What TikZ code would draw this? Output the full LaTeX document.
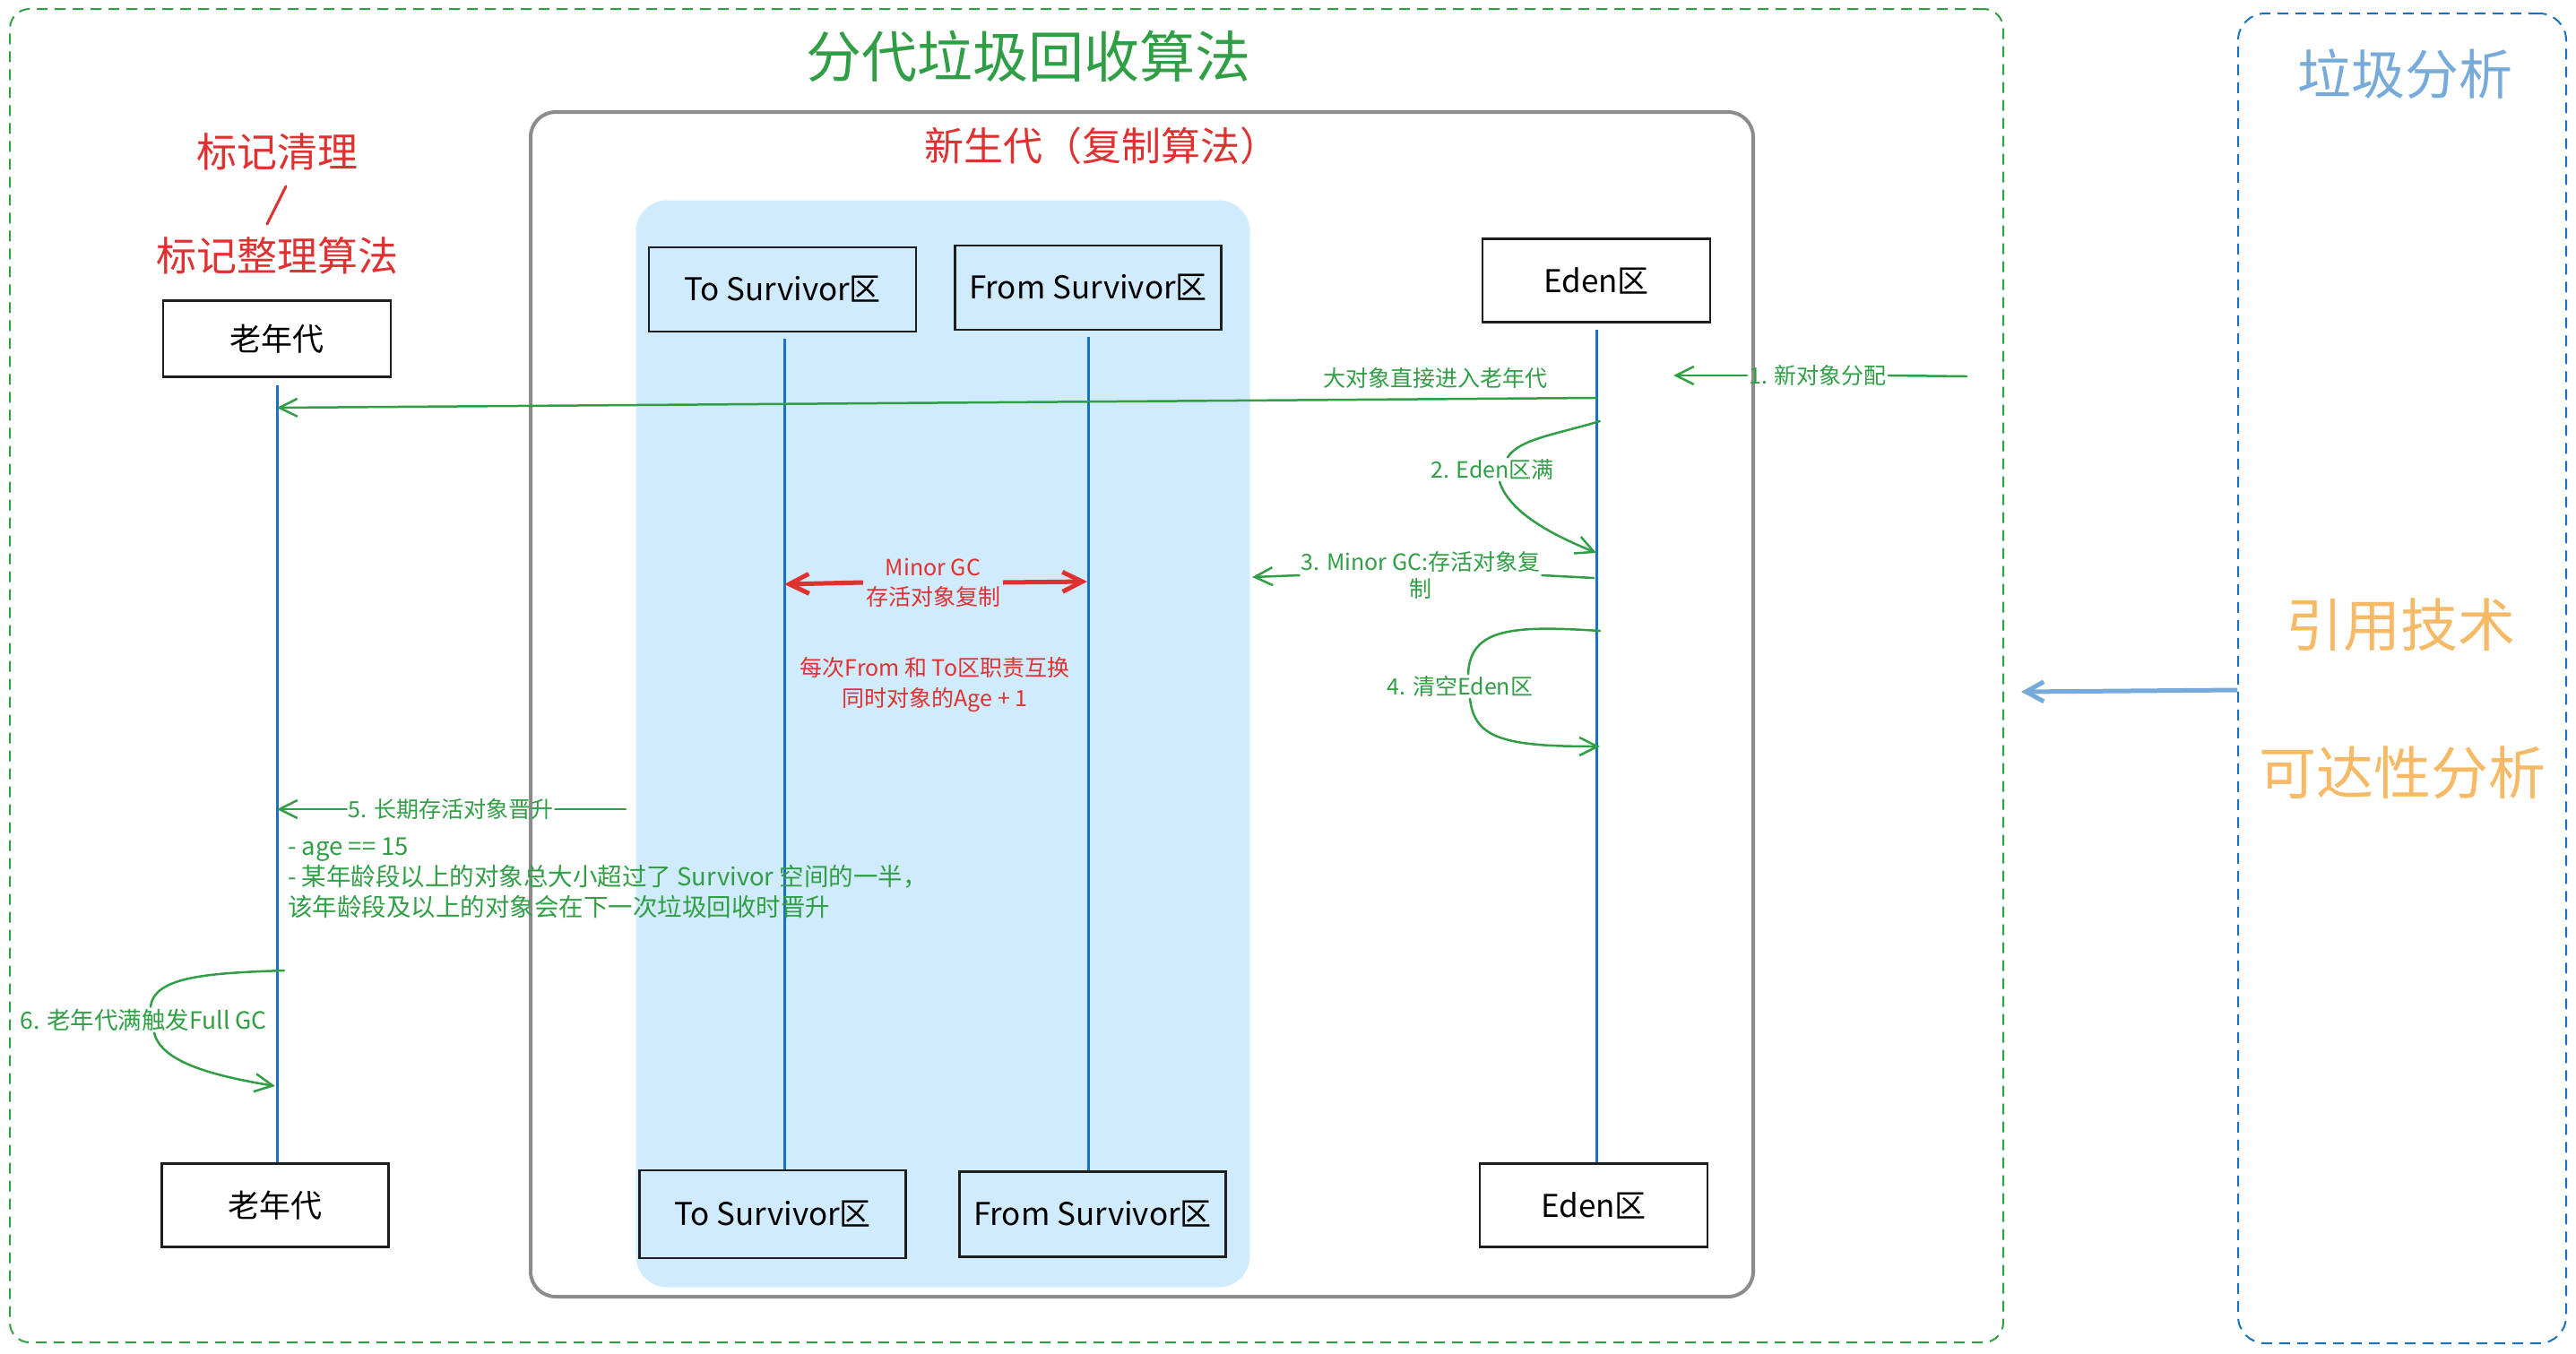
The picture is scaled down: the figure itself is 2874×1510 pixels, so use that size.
\documentclass[tikz,border=0pt]{standalone}
\usepackage{fontspec}
\setmainfont{Noto Sans CJK SC}
\usetikzlibrary{arrows.meta}
\definecolor{xgreen}{HTML}{2F9E44}
\definecolor{xred}{HTML}{E03131}
\definecolor{xblue}{HTML}{1971C2}
\definecolor{xlblue}{RGB}{117,170,218}
\definecolor{xorange}{RGB}{246,186,102}
\definecolor{xfill}{RGB}{208,235,253}
\definecolor{xgray}{RGB}{140,140,140}
\definecolor{xink}{HTML}{1E1E1E}
\newcommand\myfs[2]{\fontsize{#1}{#2}\selectfont}
\begin{document}
\begin{tikzpicture}[x=1pt,y=-1pt,
  pbox/.style={draw=xink,line width=2.5pt,font=\myfs{35}{42},text=black,inner sep=0pt},
  lifeline/.style={draw=xblue,line width=3pt},
  glbl/.style={font=\myfs{25}{30},text=xgreen,inner sep=2pt,align=center},
  rlbl/.style={font=\myfs{25}{33},text=xred,inner sep=3pt,align=center},
  gline/.style={draw=xgreen,line width=2.5pt,line cap=round},
  garrow/.style={gline,-{Straight Barb[length=20pt,width=20pt]}},
  rarrow/.style={draw=xred,line width=5pt,-{Straight Barb[length=22pt,width=22pt]}},
  frame/.style={line width=2pt,dash pattern=on 12pt off 8pt,inner sep=0pt},
]
\useasboundingbox (0,0) rectangle (2874,1510);

% frames and areas
\node[frame,draw=xgreen,rounded corners=22pt,minimum width=2224pt,minimum height=1488pt] (gb) at (1123,754) {};
\node[frame,draw=xblue,rounded corners=30pt,minimum width=366pt,minimum height=1484pt] (rb) at (2680,757) {};
\node[fill=xfill,rounded corners=35pt,minimum width=685pt,minimum height=1213pt,inner sep=0pt] (ya) at (1052,830) {};
\node[draw=xgray,line width=4pt,rounded corners=28pt,minimum width=1364pt,minimum height=1322pt,inner sep=0pt] (gy) at (1274,786) {};

% titles
\node[font=\myfs{62}{70},text=xgreen] (t1) at (1147,63) {分代垃圾回收算法};
\node[font=\myfs{44}{50},text=xred] (t2) at (1229,163) {新生代（复制算法）};
\node[font=\myfs{45}{50},text=xred] (m1) at (309,169) {标记清理};
\node[font=\myfs{45}{50},text=xred] (m2) at (309,285) {标记整理算法};
\coordinate (s1) at (319,208);
\coordinate (s2) at (298,250);
\draw[xred,line width=3pt,line cap=round] (s1) -- (s2);

% right panel
\node[font=\myfs{60}{70},text=xlblue] (ra) at (2683,83) {垃圾分析};
\node[font=\myfs{64}{70},text=xorange] (rt1) at (2678,697) {引用技术};
\node[font=\myfs{64}{70},text=xorange] (rt2) at (2680,862) {可达性分析};
\coordinate (yb) at (0,770);
\coordinate (bt) at (2255,772);
\draw[draw=xlblue,line width=5pt,-{Straight Barb[length=20pt,width=22pt]}] (rb.west |- yb) -- (bt);

% participant boxes
\node[pbox,minimum width=254pt,minimum height=85pt] (oldT) at (309,378) {老年代};
\node[pbox,minimum width=298pt,minimum height=94pt] (toT) at (873,323) {To Survivor区};
\node[pbox,minimum width=297pt,minimum height=94pt] (frT) at (1214,321) {From Survivor区};
\node[pbox,minimum width=254pt,minimum height=93pt] (edT) at (1781,313) {Eden区};
\node[pbox,minimum width=253pt,minimum height=93pt] (oldB) at (307,1345) {老年代};
\node[pbox,minimum width=297pt,minimum height=98pt] (toB) at (862,1355) {To Survivor区};
\node[pbox,minimum width=297pt,minimum height=95pt] (frB) at (1219,1355) {From Survivor区};
\node[pbox,minimum width=254pt,minimum height=93pt] (edB) at (1778,1345) {Eden区};

% lifelines
\draw[lifeline] ([yshift=-8pt]oldT.south) -- (oldT.south |- oldB.north);
\draw[lifeline] ([yshift=-7pt,xshift=2pt]toT.south) -- ([xshift=2pt]toT.south |- toB.north);
\draw[lifeline] ([yshift=-7pt]frT.south) -- (frT.south |- frB.north);
\draw[lifeline] ([yshift=-7pt]edT.south) -- (edT.south |- edB.north);

% large object
\coordinate (e0) at (1781,444);
\coordinate (o0) at (309,455);
\node[glbl] (l0) at (1601,422) {大对象直接进入老年代};
\draw[garrow] (e0) -- (o0);

% 1
\coordinate (c1s) at (2194,420);
\coordinate (c1e) at (1867,419);
\node[glbl] (l1) at (2028,419) {1. 新对象分配};
\draw[gline] (c1s) -- (l1.east);
\draw[garrow] (l1.west) -- (c1e);

% 2
\coordinate (e2s) at (1785,470);
\coordinate (e2e) at (1781,617);
\node[glbl] (l2) at (1665,524) {2. Eden区满};
\draw[gline] (e2s) .. controls (1735,485) and (1695,490) .. ([xshift=17pt]l2.north);
\draw[garrow] ([xshift=8pt]l2.south) .. controls (1685,575) and (1740,600) .. (e2e);

% 3
\coordinate (e3) at (1778,645);
\coordinate (c3e) at (1397,644);
\node[glbl] (l3) at (1585,642) {3. Minor GC:存活对象复\\制};
\draw[gline] (e3) -- (l3.east);
\draw[garrow] (l3.west) -- (c3e);

% 4
\coordinate (e4s) at (1785,704);
\coordinate (e4e) at (1785,833);
\node[glbl] (l4) at (1629,766) {4. 清空Eden区};
\draw[gline] (e4s) .. controls (1690,698) and (1640,700) .. ([xshift=9pt]l4.north);
\draw[garrow] ([xshift=11pt]l4.south) .. controls (1645,825) and (1680,833) .. (e4e);

% red copy
\node[rlbl] (lr) at (1041,650) {Minor GC\\存活对象复制};
\coordinate (tr) at (875,652);
\coordinate (fr) at (1213,649);
\draw[rarrow] (lr.west) -- (tr);
\draw[rarrow] (lr.east) -- (fr);
\node[rlbl,font=\myfs{25}{34}] (lr2) at (1043,764) {每次From 和 To区职责互换\\同时对象的Age + 1};

% 5
\coordinate (c5s) at (698,903);
\coordinate (o5) at (309,903);
\node[glbl] (l5) at (503,903) {5. 长期存活对象晋升};
\draw[gline] (c5s) -- (l5.east);
\draw[garrow] (l5.west) -- (o5);
\node[font=\myfs{27.5}{34},text=xgreen,align=left,anchor=north west,inner sep=0pt] (nt) at (321,935) {- age == 15\\- 某年龄段以上的对象总大小超过了 Survivor 空间的一半，\\该年龄段及以上的对象会在下一次垃圾回收时晋升};

% 6
\coordinate (o6s) at (317,1083);
\coordinate (o6e) at (307,1212);
\node[glbl,font=\myfs{26.5}{30}] (l6) at (160,1138) {6. 老年代满触发Full GC};
\draw[gline] (o6s) .. controls (230,1086) and (172,1090) .. ([xshift=8pt]l6.north);
\draw[garrow] ([xshift=12pt]l6.south) .. controls (180,1185) and (235,1200) .. (o6e);
\end{tikzpicture}
\end{document}
